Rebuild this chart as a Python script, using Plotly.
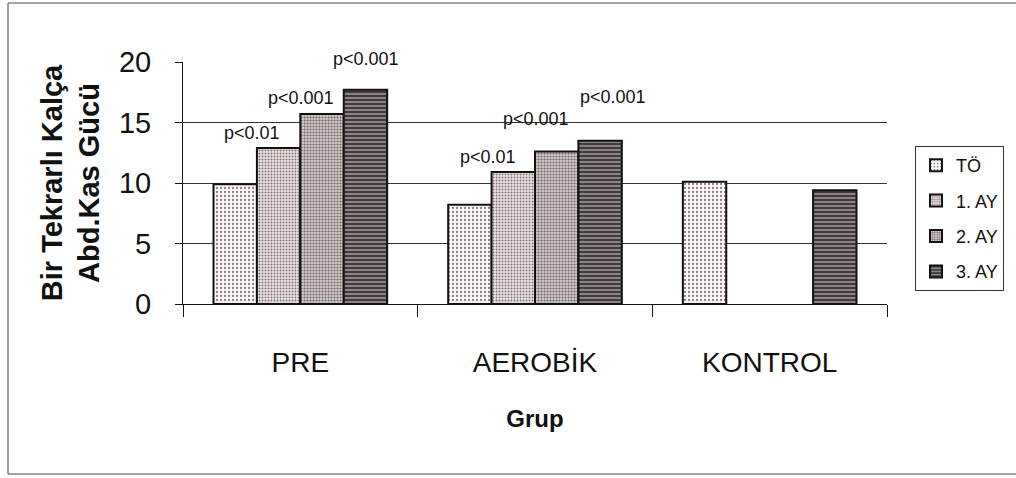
import plotly.graph_objects as go

# ---------------- data ----------------
groups = ["PRE", "AEROBİK", "KONTROL"]
series_names = ["TÖ", "1. AY", "2. AY", "3. AY"]
to_vals = [9.9, 8.2, 10.1]
ay1_vals = [12.9, 10.9, None]
ay2_vals = [15.7, 12.6, None]
ay3_vals = [17.7, 13.5, 9.4]
y_tick_vals = [0, 5, 10, 15, 20]
grid_vals = [5, 10, 15]

# significance labels: group, series index, text
p_groups = ["PRE", "PRE", "PRE", "AEROBİK", "AEROBİK", "AEROBİK"]
p_series = [1, 2, 3, 1, 2, 3]
p_texts = ["p<0.01", "p<0.001", "p<0.001", "p<0.01", "p<0.001", "p<0.001"]

y_title = "Bir Tekrarlı Kalça<br>Abd.Kas Gücü"
x_title = "Grup"

# ---------------- style ----------------
FONT = "Liberation Sans, Arial, sans-serif"
styles = [
    dict(bg="#fbf6f6", fg="#8a8282", shape=".", size=4, solidity=0.25),
    dict(bg="#f1e6e6", fg="#7a7070", shape=".", size=3, solidity=0.35),
    dict(bg="#d6cbcb", fg="#6e6464", shape=".", size=3, solidity=0.40),
    dict(bg="#8a8285", fg="#3a3335", shape="-", size=4, solidity=0.45),
]
p_xshift = [-48, 1, 66, -47, 1, 78]
p_yshift = [15, 16, 31, 15, 33, 44]

all_vals = [to_vals, ay1_vals, ay2_vals, ay3_vals]

fig = go.Figure()
for name, vals, st in zip(series_names, all_vals, styles):
    fig.add_trace(go.Bar(
        x=groups, y=vals, name=name, legendgroup=name,
        marker=dict(
            color=st["bg"],
            line=dict(color="#111111", width=2),
            pattern=dict(shape=st["shape"], fgcolor=st["fg"], bgcolor=st["bg"],
                         size=st["size"], solidity=st["solidity"], fillmode="replace"),
        ),
    ))

for g, s, t, dx, dy in zip(p_groups, p_series, p_texts, p_xshift, p_yshift):
    yv = all_vals[s][groups.index(g)]
    fig.add_annotation(x=g, y=yv, text=t, showarrow=False, xshift=dx, yshift=dy,
                       yanchor="middle", xanchor="center",
                       font=dict(family=FONT, size=18, color="#111111"))

# plot area pixels: x 183..887, y 62..304
L, R, T, B = 183, 129, 62, 174
W, H = 1016, 478
pw, ph = W - L - R, H - T - B

def px2paper_x(px):
    return (px - L) / pw

def px2paper_y(py):
    return (H - B - py) / ph

# outer frame of the chart
fig.add_shape(type="rect", xref="paper", yref="paper",
              x0=px2paper_x(8), x1=px2paper_x(1030), y0=px2paper_y(474), y1=px2paper_y(3),
              line=dict(color="#444444", width=1), fillcolor="rgba(0,0,0,0)", layer="below")

fig.update_layout(
    width=W, height=H,
    margin=dict(l=L, r=R, t=T, b=B, pad=0),
    paper_bgcolor="white", plot_bgcolor="white",
    barmode="group", bargap=0.26, bargroupgap=0,
    font=dict(family=FONT, color="#111111"),
    showlegend=True,
    legend=dict(x=px2paper_x(915), y=px2paper_y(146), xanchor="left", yanchor="top",
                bordercolor="#333333", borderwidth=1, bgcolor="white",
                font=dict(family=FONT, size=18, color="#111111"),
                tracegroupgap=9, traceorder="grouped"),
    xaxis=dict(
        showline=True, linecolor="#111111", linewidth=1,
        ticks="outside", tickson="boundaries", ticklen=12, tickcolor="#111111",
        tickfont=dict(family=FONT, size=28, color="#111111"),
        ticklabelstandoff=33,
        title=dict(text=x_title, font=dict(family=FONT, size=24, color="#111111", weight="bold"),
                   standoff=33),
        showgrid=False, zeroline=False,
    ),
    yaxis=dict(
        range=[0, 20], tickvals=y_tick_vals,
        showline=True, linecolor="#111111", linewidth=1,
        ticks="outside", ticklen=7, tickcolor="#111111",
        tickfont=dict(family=FONT, size=29, color="#111111"),
        ticklabelstandoff=18,
        title=dict(text=y_title, font=dict(family=FONT, size=29, color="#111111", weight="bold"),
                   standoff=10),
        showgrid=False, zeroline=False,
        minor=dict(tickvals=grid_vals, showgrid=True, gridcolor="#333333", gridwidth=1, ticks=""),
    ),
)

fig.write_html("out.html")
